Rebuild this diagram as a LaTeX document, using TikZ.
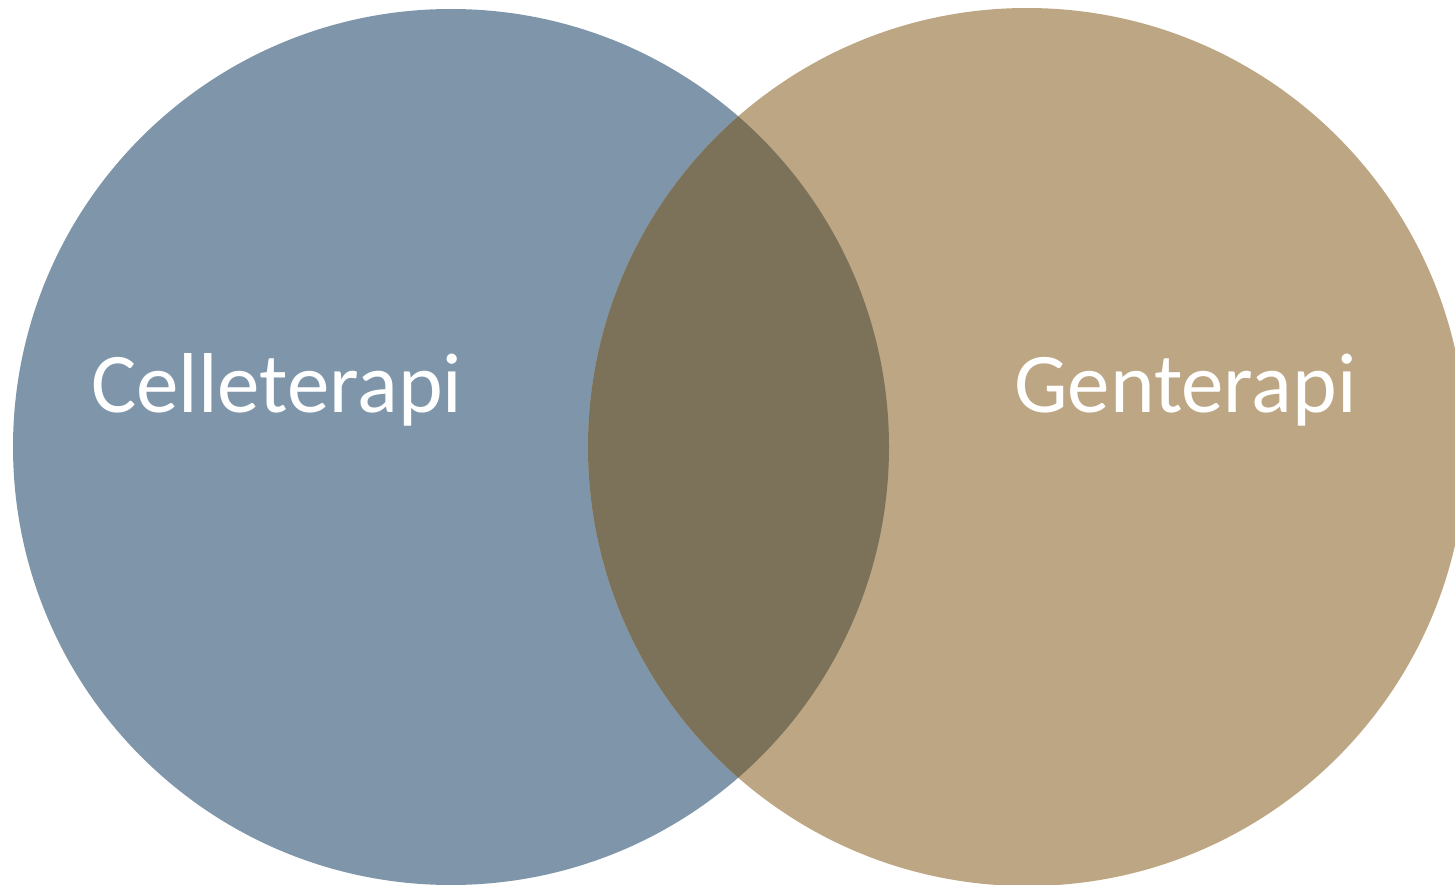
\documentclass[tikz,border=0pt]{standalone}
\usepackage{fontspec}
\setmainfont{Carlito}
\definecolor{cblue}{HTML}{7F96AA}
\definecolor{ctan}{HTML}{BDA683}
\definecolor{cover}{HTML}{7C7259}
\begin{document}
\begin{tikzpicture}[x=1pt,y=-1pt,
  lbl/.style={text=white,font=\fontsize{85}{90}\selectfont,inner sep=0pt,anchor=base west}]
\useasboundingbox (0,0) rectangle (1455,885);
\begin{scope}
\clip (0,0) rectangle (1455,885);
\fill[cblue] (451,447) circle (438);
\fill[ctan] (1027,447) circle (439);
\begin{scope}
\clip (451,447) circle (438);
\fill[cover] (1027,447) circle (439);
\end{scope}
\end{scope}
\node[lbl] (cell) at (91,412) {Celleterapi};
\node[lbl] (gen) at (1014,412) {Genterapi};
\end{tikzpicture}
\end{document}
